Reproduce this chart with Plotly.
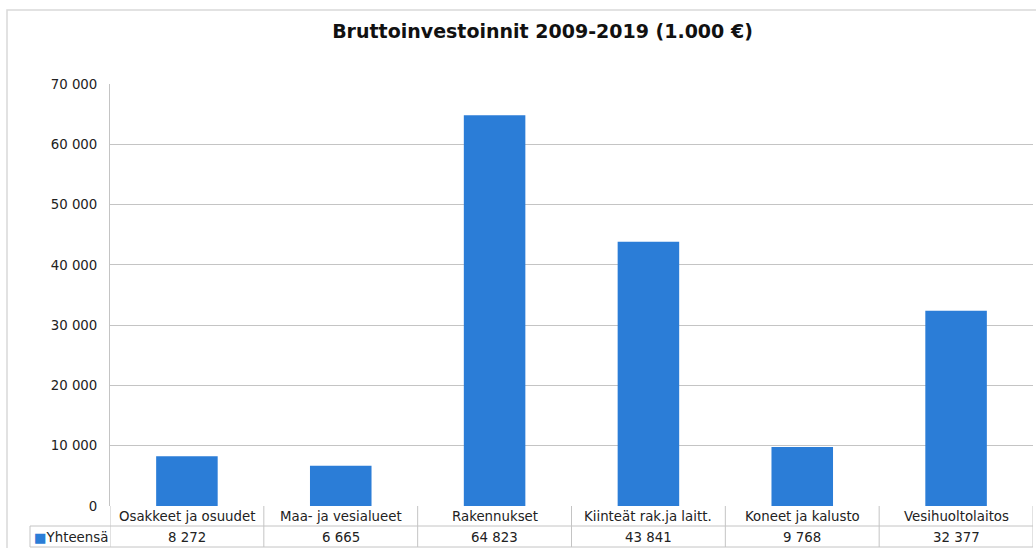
import plotly.graph_objects as go

categories = ["Osakkeet ja osuudet", "Maa- ja vesialueet", "Rakennukset",
              "Kiinteät rak.ja laitt.", "Koneet ja kalusto", "Vesihuoltolaitos"]
values = [8272, 6665, 64823, 43841, 9768, 32377]
series_name = "Yhteensä"
title_text = "Bruttoinvestoinnit 2009-2019 (1.000 €)"
y_ticks = [0, 10000, 20000, 30000, 40000, 50000, 60000, 70000]

W, H = 1036, 548
ML, MR, MT, MB = 110, 3, 84, 42
PW = W - ML - MR
PH = H - MT - MB

BLUE = "#2B7DD7"
GRID = "#c4c4c4"
TXT = "#222222"
FONT = "DejaVu Sans, Verdana, sans-serif"
FS = 13.33

def px_x(px):
    return (px - ML) / PW

def px_y(py):
    return (H - MB - py) / PH

def fmt(v):
    return f"{v:,}".replace(",", " ")

fig = go.Figure()
fig.add_trace(go.Bar(x=categories, y=values, name=series_name,
                     marker=dict(color=BLUE, line=dict(width=0)),
                     width=0.4, showlegend=False, hoverinfo="x+y"))

shapes = []
annotations = []
n = len(categories)
# outer border
shapes.append(dict(type="rect", xref="paper", yref="paper",
                   x0=px_x(7), x1=px_x(W + 5), y0=px_y(H + 5), y1=px_y(10),
                   line=dict(color="#d9d9d9", width=1.5), fillcolor="rgba(0,0,0,0)", layer="below"))
# table verticals
for i in range(n + 1):
    shapes.append(dict(type="line", xref="x", yref="paper",
                       x0=i - 0.5, x1=i - 0.5, y0=px_y(547), y1=0,
                       line=dict(color=GRID, width=1)))
# legend cell left border
shapes.append(dict(type="line", xref="paper", yref="paper",
                   x0=px_x(30), x1=px_x(30), y0=px_y(547), y1=px_y(526),
                   line=dict(color=GRID, width=1)))
# horizontal table lines
shapes.append(dict(type="line", xref="paper", yref="paper",
                   x0=px_x(30), x1=1, y0=px_y(526), y1=px_y(526),
                   line=dict(color=GRID, width=1)))
shapes.append(dict(type="line", xref="paper", yref="paper",
                   x0=px_x(30), x1=1, y0=px_y(547), y1=px_y(547),
                   line=dict(color=GRID, width=1)))

for i, (c, v) in enumerate(zip(categories, values)):
    annotations.append(dict(x=c, y=px_y(516.5), xref="x", yref="paper",
                            text=c, showarrow=False, xanchor="center", yanchor="middle",
                            font=dict(family=FONT, size=FS, color=TXT)))
    annotations.append(dict(x=c, y=px_y(537), xref="x", yref="paper",
                            text=fmt(v), showarrow=False, xanchor="center", yanchor="middle",
                            font=dict(family=FONT, size=FS, color=TXT)))

annotations.append(dict(x=px_x(32), y=px_y(537), xref="paper", yref="paper",
                        text=f"<span style='color:{BLUE}'>■</span>{series_name}",
                        showarrow=False, xanchor="left", yanchor="middle",
                        font=dict(family=FONT, size=FS, color=TXT)))

fig.update_layout(
    width=W, height=H,
    margin=dict(l=ML, r=MR, t=MT, b=MB, pad=0),
    paper_bgcolor="white", plot_bgcolor="white",
    separators=", ",
    title=dict(text=f"<b>{title_text}</b>", x=px_x(542.5), xref="paper", xanchor="center",
               y=1 - 31 / H, yref="container", yanchor="middle",
               font=dict(family=FONT, size=19, color="#111111")),
    xaxis=dict(type="category", range=[-0.5, n - 0.5], showticklabels=False,
               showgrid=False, zeroline=False, showline=False, ticks=""),
    yaxis=dict(range=[0, 70000], tickvals=y_ticks, ticktext=[fmt(t) for t in y_ticks],
               showgrid=True, gridcolor=GRID, gridwidth=1, zeroline=False,
               showline=True, linecolor=GRID, linewidth=1, ticks="",
               ticklabelstandoff=9,
               tickfont=dict(family=FONT, size=FS, color=TXT)),
    shapes=shapes, annotations=annotations,
    bargap=0.6,
)

fig.write_html("out.html", config={"displayModeBar": False},
               post_script="document.body.style.margin='0';document.body.style.overflow='hidden';")
